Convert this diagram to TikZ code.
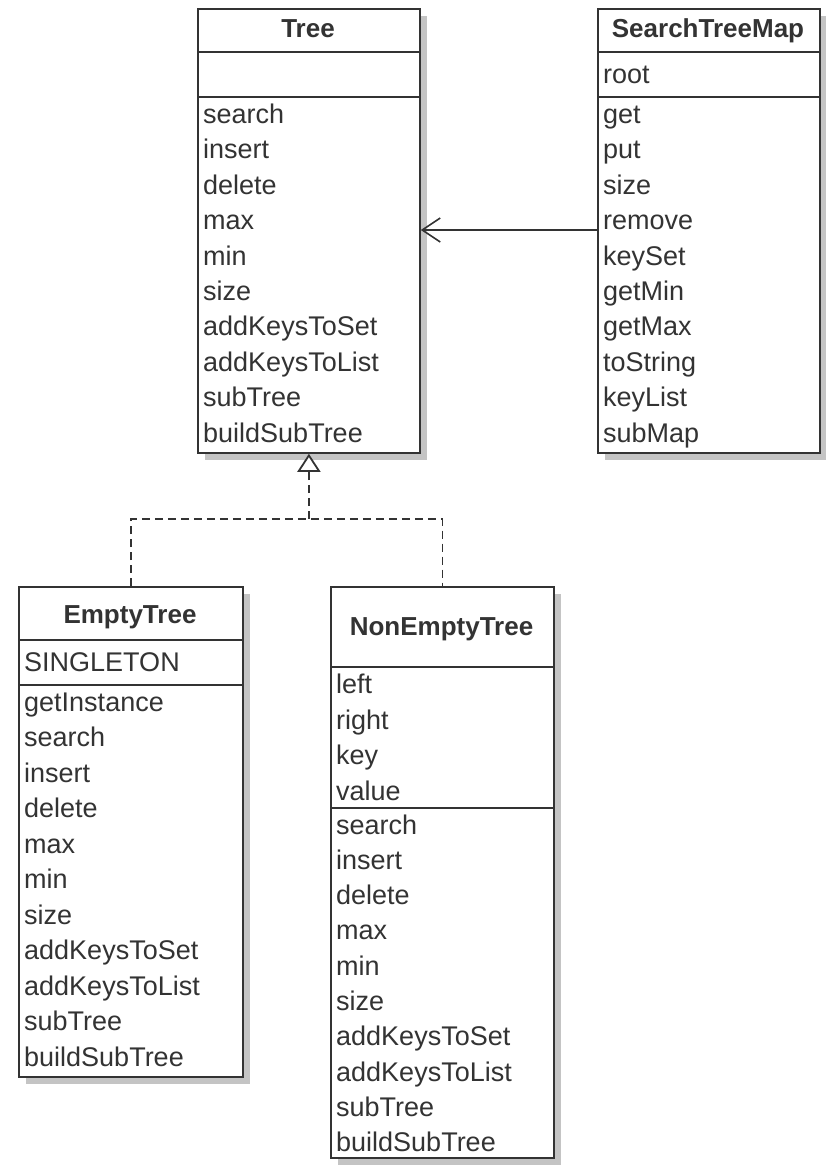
\documentclass[tikz,border=0pt]{standalone}
\usepackage{fontspec}
\setmainfont{Liberation Sans}
\usetikzlibrary{arrows.meta,shadows}
\definecolor{ink}{HTML}{333333}
\definecolor{shade}{HTML}{C4C4C4}
\tikzset{
  classbox/.style={draw=ink, line width=1.8pt, fill=white, inner sep=0pt,
    anchor=north west,
    drop shadow={shadow xshift=7pt, shadow yshift=-7pt, fill=shade, opacity=1}},
  divider/.style={draw=ink, line width=1.4pt},
  member/.style={anchor=base west, inner sep=0pt, text=ink,
    font=\fontsize{27}{31}\selectfont},
  classname/.style={anchor=base, inner sep=0pt, text=ink,
    font=\fontsize{26}{30}\selectfont\bfseries},
  assoc/.style={draw=ink, line width=1.6pt,
    -{Straight Barb[length=18pt,width=24pt]}},
  realize/.style={draw=ink, line width=1.8pt, dash pattern=on 8pt off 5pt},
}
\begin{document}
\begin{tikzpicture}[x=1pt,y=-1pt]
\useasboundingbox (0,0) rectangle (825,1165);

% ---- class boxes
\node[classbox, minimum width=222pt, minimum height=444pt] (tree) at (197,8) {};
\node[classbox, minimum width=222pt, minimum height=444pt] (stm) at (597,8) {};
\node[classbox, minimum width=224pt, minimum height=490pt] (empty) at (18,586) {};
\node[classbox, minimum width=223pt, minimum height=571pt] (nonempty) at (330,586) {};

% ---- compartment dividers
\draw[divider] (tree.west |- 0,52) -- (tree.east |- 0,52);
\draw[divider] (tree.west |- 0,97) -- (tree.east |- 0,97);
\draw[divider] (stm.west |- 0,52) -- (stm.east |- 0,52);
\draw[divider] (stm.west |- 0,97) -- (stm.east |- 0,97);
\draw[divider] (empty.west |- 0,640) -- (empty.east |- 0,640);
\draw[divider] (empty.west |- 0,685) -- (empty.east |- 0,685);
\draw[divider] (nonempty.west |- 0,667) -- (nonempty.east |- 0,667);
\draw[divider] (nonempty.west |- 0,808) -- (nonempty.east |- 0,808);

% ---- class names
\node[classname] (tree-name) at (308,37) {Tree};
\node[classname] (stm-name) at (708,37) {SearchTreeMap};
\node[classname] (empty-name) at (130,623) {EmptyTree};
\node[classname] (nonempty-name) at (441.5,635) {NonEmptyTree};

% ---- Tree members
\foreach \t [count=\i from 0] in {search,insert,delete,max,min,size,addKeysToSet,addKeysToList,subTree,buildSubTree}
  \node[member, name=tree-m\i] at (203,{123.5+\i*35.4}) {\t};

% ---- SearchTreeMap members
\node[member] (stm-a0) at (603,83) {root};
\foreach \t [count=\i from 0] in {get,put,size,remove,keySet,getMin,getMax,toString,keyList,subMap}
  \node[member, name=stm-m\i] at (603,{123.5+\i*35.4}) {\t};

% ---- EmptyTree members
\node[member] (empty-a0) at (24,671.5) {SINGLETON};
\foreach \t [count=\i from 0] in {getInstance,search,insert,delete,max,min,size,addKeysToSet,addKeysToList,subTree,buildSubTree}
  \node[member, name=empty-m\i] at (24,{711+\i*35.5}) {\t};

% ---- NonEmptyTree members
\foreach \t [count=\i from 0] in {left,right,key,value}
  \node[member, name=nonempty-a\i] at (336,{693.5+\i*35.5}) {\t};
\foreach \t [count=\i from 0] in {search,insert,delete,max,min,size,addKeysToSet,addKeysToList,subTree,buildSubTree}
  \node[member, name=nonempty-m\i] at (336,{834+\i*35.3}) {\t};

% ---- association SearchTreeMap -> Tree
\draw[assoc] (stm.west |- 0,230) -- (tree.east |- 0,230);

% ---- realization EmptyTree, NonEmptyTree -> Tree
\coordinate (join) at (tree.south |- 0,519);
\draw[realize] (empty.north) |- (join) -| (nonempty.north);
\draw[realize, -{Triangle[length=18pt,width=23pt,fill=white]}] (join) -- (tree.south);
\end{tikzpicture}
\end{document}
